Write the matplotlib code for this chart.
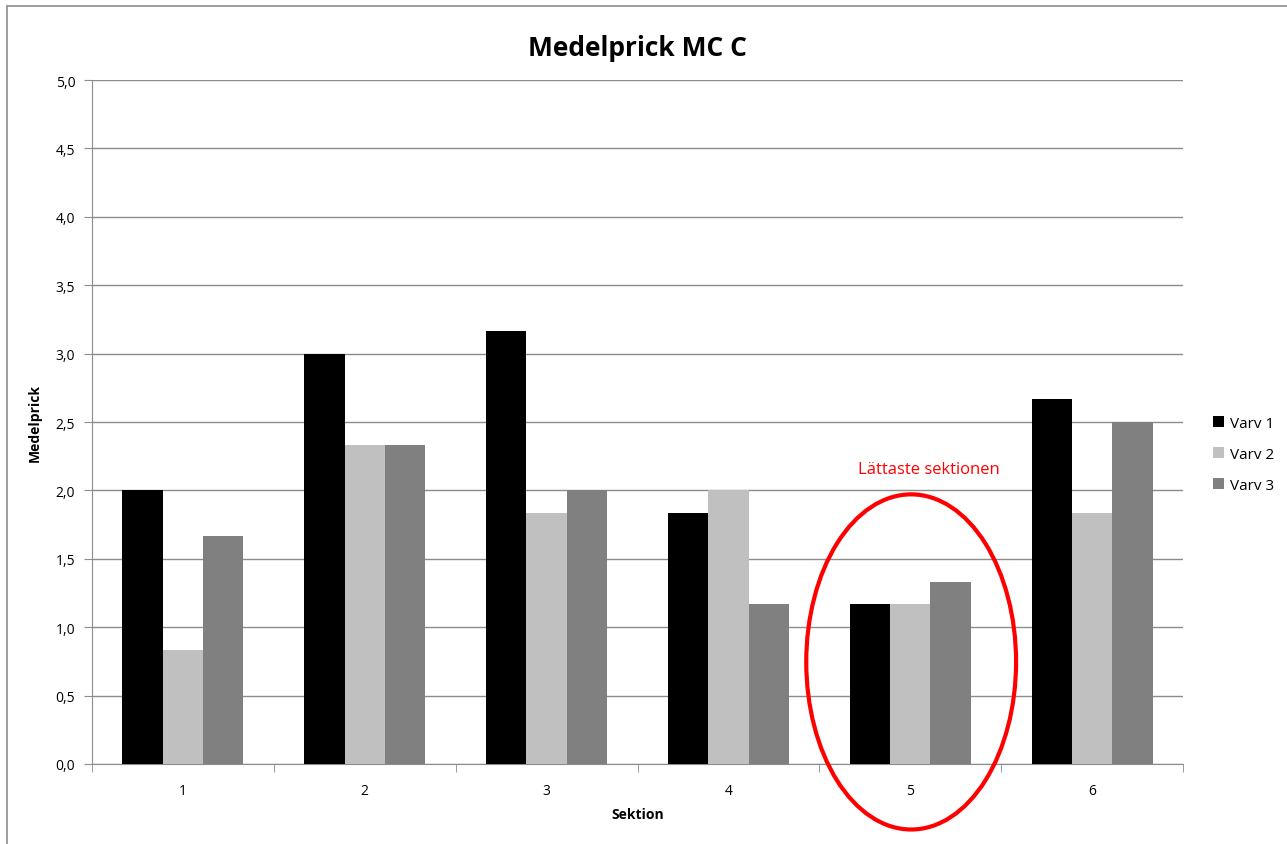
import matplotlib
matplotlib.use("Agg")
import matplotlib.pyplot as plt
from matplotlib.patches import Ellipse, Rectangle
from matplotlib.ticker import FuncFormatter, FixedLocator
import numpy as np

sektioner = ["1", "2", "3", "4", "5", "6"]
varv1 = [2.0, 3.0, 3.167, 1.833, 1.167, 2.667]
varv2 = [0.833, 2.333, 1.833, 2.0, 1.167, 1.833]
varv3 = [1.667, 2.333, 2.0, 1.167, 1.333, 2.5]
serier = {"Varv 1": varv1, "Varv 2": varv2, "Varv 3": varv3}
farger = ["#000000", "#c0c0c0", "#808080"]

plt.rcParams['font.family'] = ['Open Sans', 'DejaVu Sans']

fig = plt.figure(figsize=(12.87, 8.45), dpi=100)
ax = fig.add_axes([0.0715, 0.0947, 0.8477, 0.8094])

# grey chart frame like the Excel export
fig.patches.append(Rectangle((7 / 1287, -0.1), 1.2, (845 - 7) / 845 + 0.1,
                             transform=fig.transFigure, fill=False,
                             edgecolor="#8c8c8c", linewidth=1.2))

x = np.arange(len(sektioner))
w = 0.222
for i, (namn, vals) in enumerate(serier.items()):
    ax.bar(x + (i - 1) * w, vals, width=w, color=farger[i], label=namn, zorder=3)

ax.set_xlim(-0.5, len(sektioner) - 0.5)
ax.set_ylim(0, 5)
ax.set_yticks(np.arange(0, 5.01, 0.5))
ax.yaxis.set_major_formatter(FuncFormatter(lambda v, p: f"{v:.1f}".replace(".", ",")))
ax.grid(axis="y", color="#8c8c8c", linewidth=1, zorder=0)

ax.set_xticks(x)
ax.set_xticklabels(sektioner)
ax.xaxis.set_minor_locator(FixedLocator(np.arange(-0.5, len(sektioner), 1)))
ax.tick_params(axis="x", which="major", length=0, pad=14, labelsize=10)
ax.tick_params(axis="x", which="minor", length=6, color="#8c8c8c", direction="out")
ax.tick_params(axis="y", length=6, color="#8c8c8c", labelsize=10, pad=6)

for s in ["top", "right"]:
    ax.spines[s].set_visible(False)
ax.spines["left"].set_color("#8c8c8c")
ax.spines["bottom"].set_color("#8c8c8c")

ax.set_title("Medelprick MC C", fontsize=19, fontweight="bold", pad=18)
ax.set_xlabel("Sektion", fontsize=10, fontweight="bold", labelpad=6)
ax.set_ylabel("Medelprick", fontsize=10, fontweight="bold", labelpad=10)

ax.legend(loc="center left", bbox_to_anchor=(1.015, 0.453), frameon=False,
          fontsize=11, handlelength=0.7, handleheight=0.7, handletextpad=0.4,
          labelspacing=1.05)

# annotation of the easiest section
ax.add_patch(Ellipse((4.005, 0.746), 1.154, 2.45, fill=False, edgecolor="#ff0000",
                     linewidth=3, clip_on=False, zorder=5))
ax.text(4.1, 2.1, "Lättaste sektionen", color="#ff0000", fontsize=12,
        ha="center", va="bottom")

fig.savefig("out.png", dpi=100)
